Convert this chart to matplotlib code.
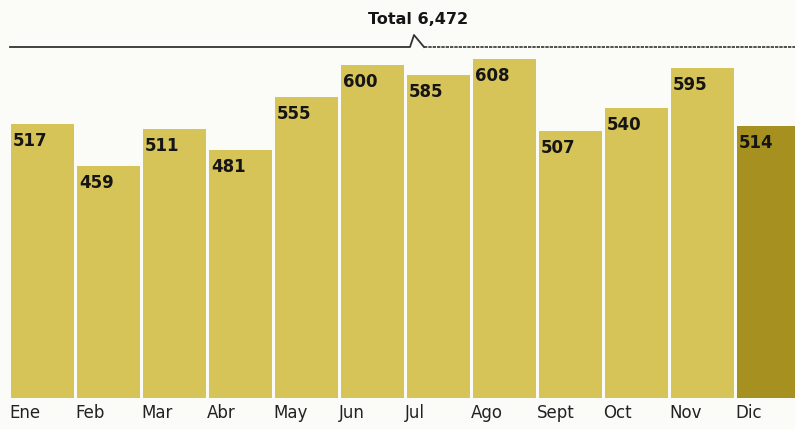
import matplotlib.pyplot as plt
from matplotlib.lines import Line2D

months = ['Ene', 'Feb', 'Mar', 'Abr', 'May', 'Jun', 'Jul', 'Ago', 'Sept', 'Oct', 'Nov', 'Dic']
values = [517, 459, 511, 481, 555, 600, 585, 608, 507, 540, 595, 514]
total_label = 'Total 6,472'

bar_color = '#d6c459'
last_color = '#a69020'

fig = plt.figure(figsize=(7.95, 4.29), dpi=100)
fig.patch.set_facecolor('#fbfbf8')

# axes spans full width, bottom at baseline (pixel 398)
ax = fig.add_axes([0, 31 / 429, 1, 398 / 429])
ax.set_facecolor('none')

colors = [bar_color] * (len(values) - 1) + [last_color]
x = range(len(values))
width = 0.955
ax.bar(x, values, width=width, color=colors, edgecolor='none')

ax.set_xlim(-0.644, 11.40)
ax.set_ylim(136, 690)
ax.axis('off')

for i, v in enumerate(values):
    ax.annotate(str(v), (i - width / 2, v), xytext=(2, -17), textcoords='offset pixels',
                ha='left', va='center', fontsize=12, fontweight='bold', color='#151515')
    ax.annotate(months[i], (i - width / 2, 136), xytext=(-2, -15), textcoords='offset pixels',
                ha='left', va='center', fontsize=12, color='#222222', annotation_clip=False)

# total bracket at top
W, H = 795, 429
def px(xp, yp):
    return xp / W, 1 - yp / H

xs, ys = zip(px(10, 47), px(410, 47), px(414, 35), px(424, 47))
fig.add_artist(Line2D(xs, ys, color='#333333', lw=1.3))
xs, ys = zip(px(424, 47), px(795, 47))
fig.add_artist(Line2D(xs, ys, color='#333333', lw=1.2, ls=(0, (2, 0.6))))
tx, ty = px(418, 19)
fig.text(tx, ty, total_label, ha='center', va='center', fontsize=11.5,
         fontweight='bold', color='#151515')

plt.savefig('out.png', dpi=100, facecolor=fig.get_facecolor())
